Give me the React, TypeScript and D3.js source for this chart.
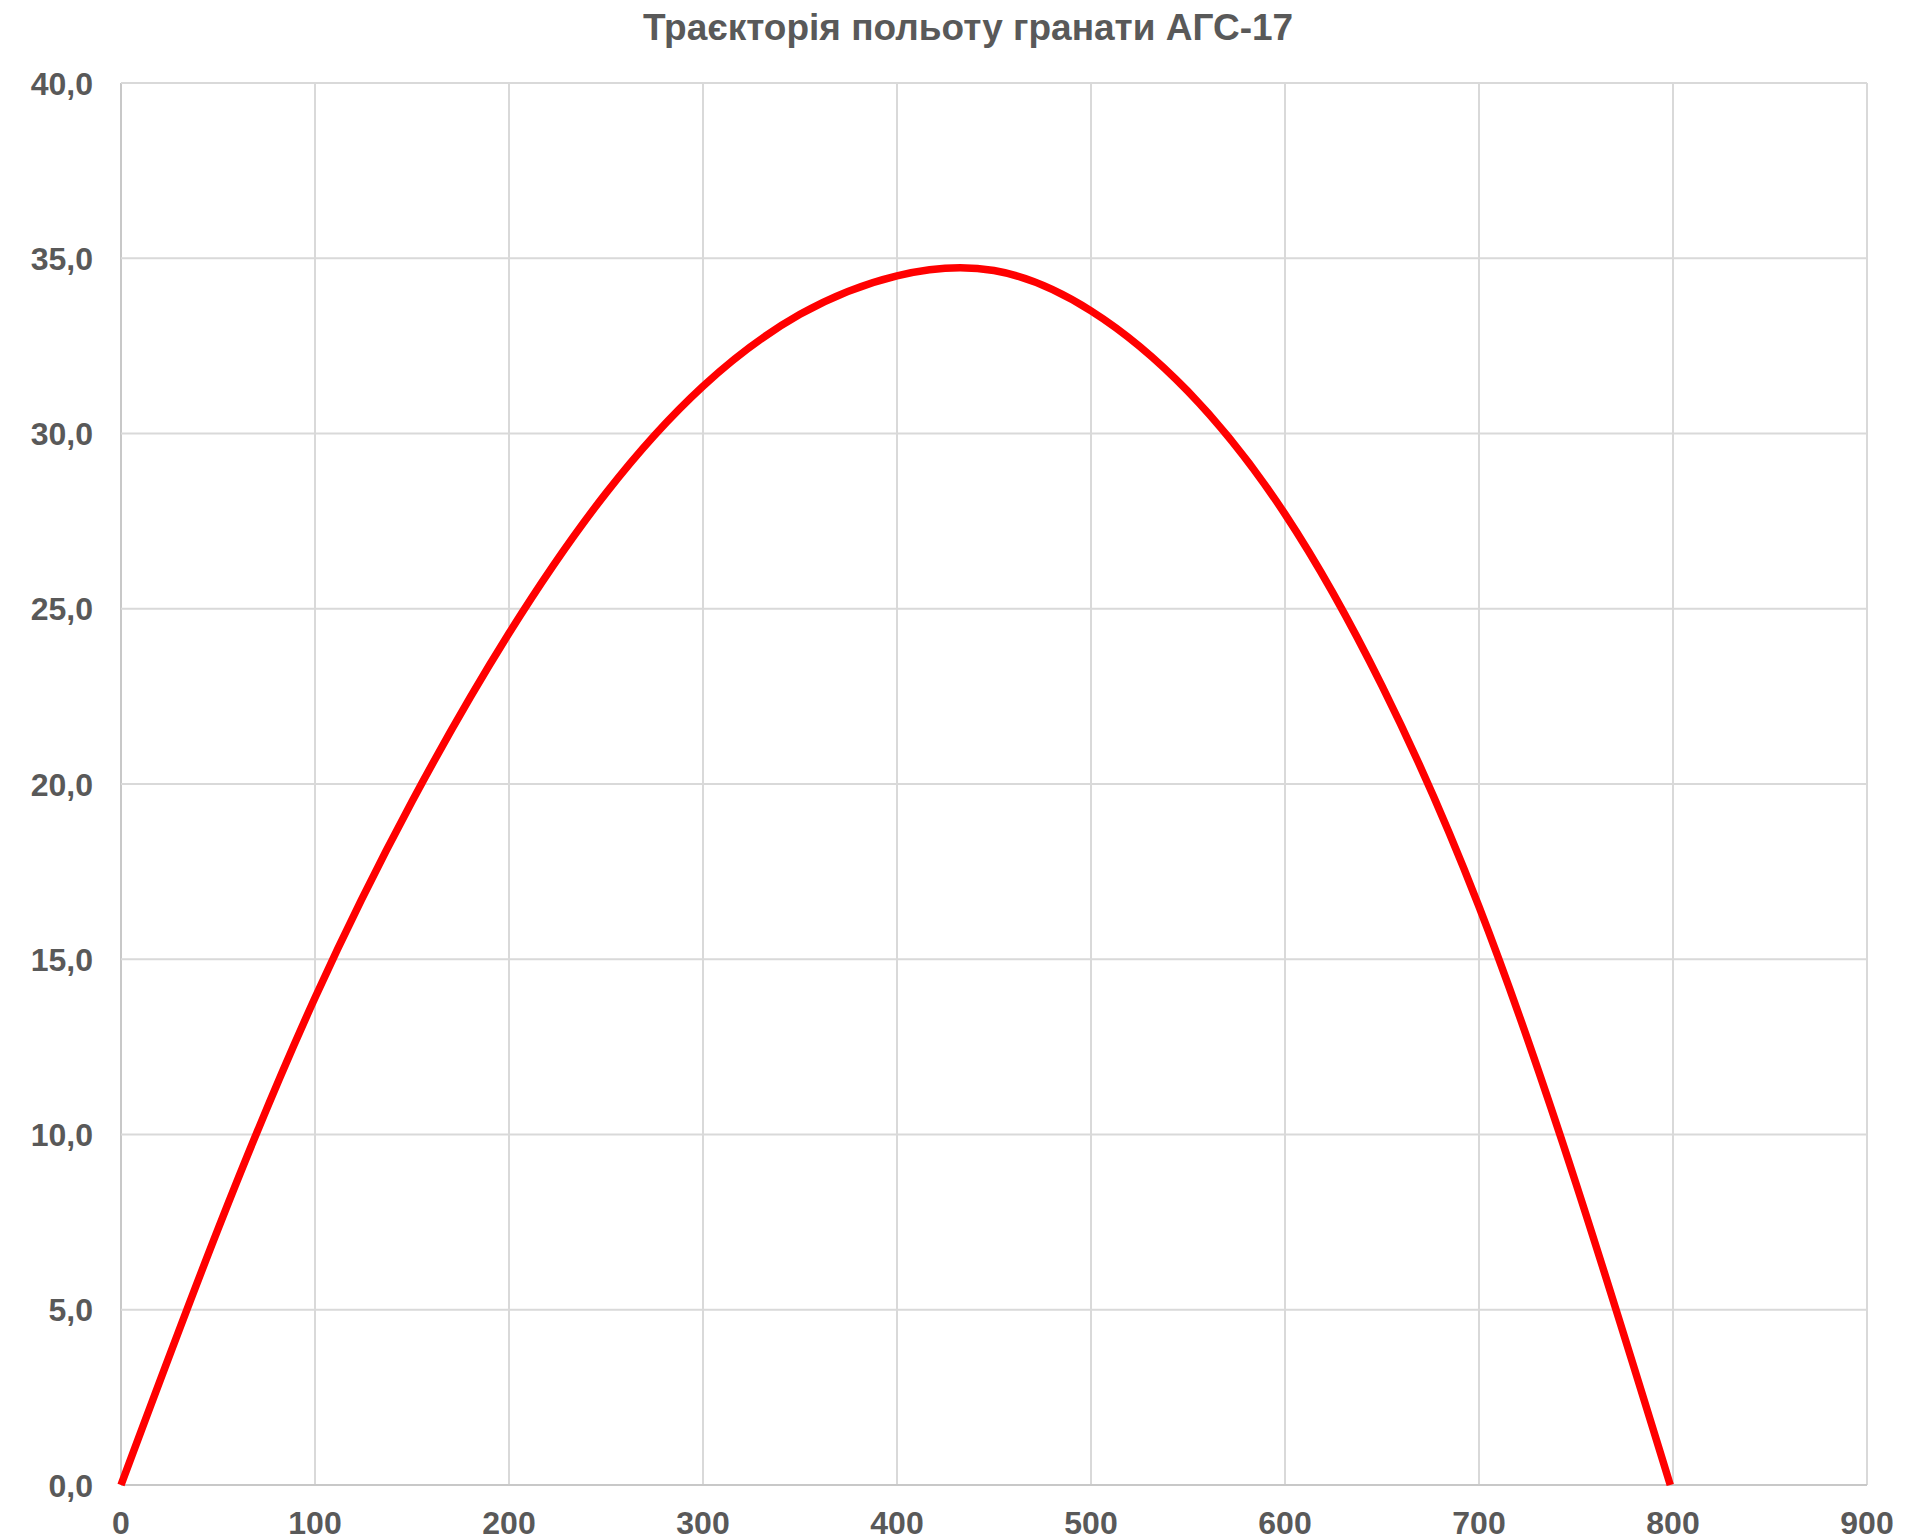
import { select, scaleLinear, line, curveNatural, range } from 'd3';
import { useEffect, useRef } from 'react';

// Траєкторія польоту гранати АГС-17: дальність (м) по X, висота (м) по Y
// точки
const distance = [
  0, 50, 100, 150, 200, 250, 300, 350, 400, 450, 500, 550, 600, 650, 700, 750,
  798.6,
];
const height = [
  0, 7.3, 13.9, 19.5, 24.3, 28.3, 31.35, 33.4, 34.5, 34.65, 33.5, 31.2, 27.7,
  22.8, 16.5, 8.6, 0,
];

const xTicks = [0, 100, 200, 300, 400, 500, 600, 700, 800, 900];
const yTicks = [0, 5, 10, 15, 20, 25, 30, 35, 40];

const title = 'Траєкторія польоту гранати АГС-17';

const W = 1917;
const H = 1540;
const FONT = '"Liberation Sans", Arial, sans-serif';
const TEXT = '#595959';

const App = () => {
  const svgRef = useRef(null);

  useEffect(() => {
    const margin = { top: 83, right: 50, bottom: 55, left: 121 };
    const w = W - margin.left - margin.right;
    const h = H - margin.top - margin.bottom;

    const svg = select(svgRef.current);
    svg.selectAll('*').remove();

    svg
      .append('rect')
      .attr('width', W)
      .attr('height', H)
      .attr('fill', '#ffffff');

    svg
      .append('text')
      .attr('x', 968)
      .attr('y', 40)
      .attr('text-anchor', 'middle')
      .attr('font-family', FONT)
      .attr('font-weight', 'bold')
      .attr('font-size', 37)
      .attr('fill', TEXT)
      .text(title);

    const g = svg
      .append('g')
      .attr('transform', `translate(${margin.left},${margin.top})`);

    const x = scaleLinear().domain([0, 900]).range([0, w]);
    const y = scaleLinear().domain([0, 40]).range([h, 0]);

    // grid
    g.append('g')
      .selectAll('line')
      .data(xTicks)
      .enter()
      .append('line')
      .attr('x1', (d) => x(d))
      .attr('x2', (d) => x(d))
      .attr('y1', 0)
      .attr('y2', h)
      .attr('stroke', (d) => (d === 0 ? '#c8c8c8' : '#d9d9d9'))
      .attr('stroke-width', 2);

    g.append('g')
      .selectAll('line')
      .data(yTicks)
      .enter()
      .append('line')
      .attr('x1', 0)
      .attr('x2', w)
      .attr('y1', (d) => y(d))
      .attr('y2', (d) => y(d))
      .attr('stroke', (d) => (d === 0 ? '#c8c8c8' : '#d9d9d9'))
      .attr('stroke-width', 2);

    // y labels
    g.append('g')
      .selectAll('text')
      .data(yTicks)
      .enter()
      .append('text')
      .attr('x', -28)
      .attr('y', (d) => y(d))
      .attr('dy', '0.36em')
      .attr('text-anchor', 'end')
      .attr('font-family', FONT)
      .attr('font-weight', 'bold')
      .attr('font-size', 32)
      .attr('fill', TEXT)
      .text((d) => d.toFixed(1).replace('.', ','));

    // x labels
    g.append('g')
      .selectAll('text')
      .data(xTicks)
      .enter()
      .append('text')
      .attr('x', (d) => x(d))
      .attr('y', h + 49)
      .attr('text-anchor', 'middle')
      .attr('font-family', FONT)
      .attr('font-weight', 'bold')
      .attr('font-size', 32)
      .attr('fill', TEXT)
      .text((d) => d);

    const points = range(distance.length).map((i) => [distance[i], height[i]]);
    const path = line()
      .x((d) => x(d[0]))
      .y((d) => y(d[1]))
      .curve(curveNatural);

    g.append('path')
      .datum(points)
      .attr('fill', 'none')
      .attr('stroke', '#ff0000')
      .attr('stroke-width', 7.5)
      .attr('d', path);
  }, []);

  return (
    <svg
      ref={svgRef}
      width={W}
      height={H}
      style={{ position: 'absolute', left: 0, top: 0, display: 'block' }}
    />
  );
};

export default App;
